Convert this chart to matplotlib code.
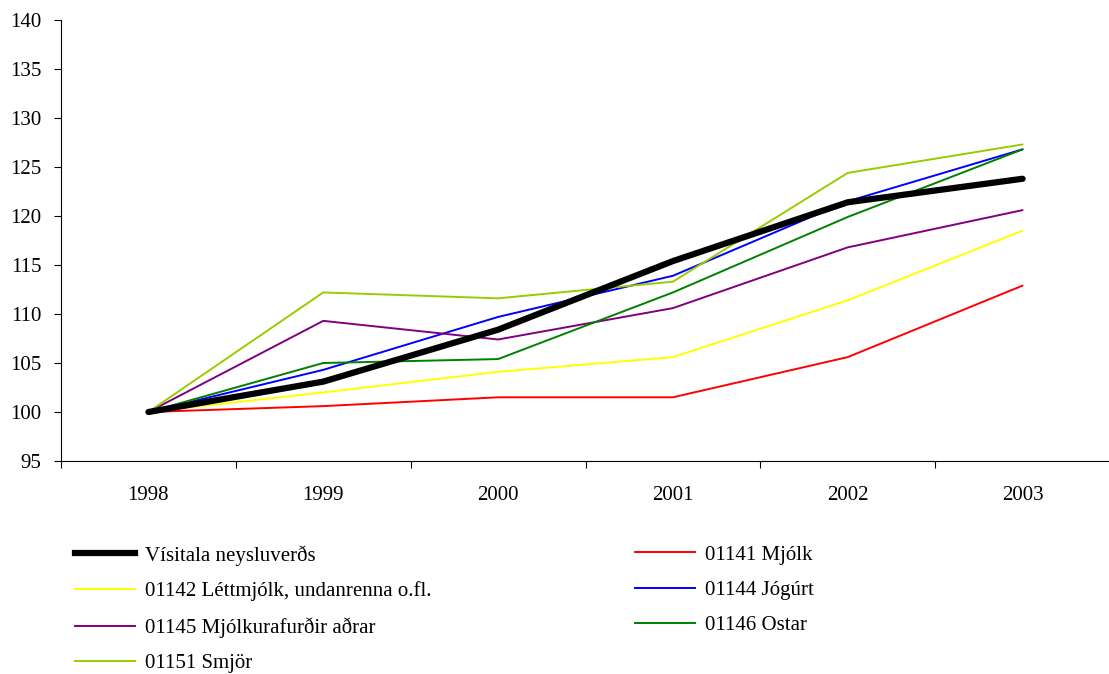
import matplotlib
matplotlib.use("Agg")
import matplotlib.pyplot as plt
from matplotlib.lines import Line2D

plt.rcParams['font.family'] = ['Liberation Serif', 'DejaVu Serif']

years = ['1998', '1999', '2000', '2001', '2002', '2003']
visitala = [100, 103.1, 108.4, 115.4, 121.4, 123.8]
mjolk = [100, 100.6, 101.5, 101.5, 105.6, 112.9]
lettmjolk = [100, 102.0, 104.1, 105.6, 111.4, 118.5]
jogurt = [100, 104.3, 109.7, 113.9, 121.5, 126.8]
mjolkurafurdir = [100, 109.3, 107.4, 110.6, 116.8, 120.6]
ostar = [100, 105.0, 105.4, 112.2, 119.9, 126.8]
smjor = [100, 112.2, 111.6, 113.3, 124.4, 127.3]

series = [
    ("Vísitala neysluverðs", visitala, "black", 4.5),
    ("01141 Mjólk", mjolk, "#ff0000", 1.4),
    ("01142 Léttmjólk, undanrenna o.fl.", lettmjolk, "#ffff00", 1.4),
    ("01144 Jógúrt", jogurt, "#0000ff", 1.4),
    ("01145 Mjólkurafurðir aðrar", mjolkurafurdir, "#800080", 1.4),
    ("01146 Ostar", ostar, "#008000", 1.4),
    ("01151 Smjör", smjor, "#99cc00", 1.4),
]

FS = 15

fig = plt.figure(figsize=(11.09, 6.74), dpi=100)
ax = fig.add_axes([61/1109, 1-461/674, (1110-61)/1109, (461-20)/674])

x = list(range(len(years)))
order = [1, 2, 3, 4, 5, 6, 0]
for i in order:
    name, vals, col, lw = series[i]
    ax.plot(x, vals, color=col, lw=lw, solid_capstyle='round',
            zorder=3 if i == 0 else 2)

ax.set_xlim(-0.5, 5.5)
ax.set_ylim(95, 140)
ax.set_yticks(range(95, 141, 5))
ax.set_xticks([i - 0.5 for i in range(7)])
ax.set_xticklabels([])
ax.set_xticks(x, minor=True)
ax.set_xticklabels(years, minor=True)
ax.tick_params(axis='x', which='minor', length=0, pad=18, labelsize=FS)
ax.tick_params(axis='x', which='major', length=5, direction='out', width=0.8)
ax.tick_params(axis='y', length=5, direction='out', width=0.8, labelsize=FS, pad=9)
for s in ['top', 'right']:
    ax.spines[s].set_visible(False)
ax.spines['left'].set_linewidth(0.8)
ax.spines['bottom'].set_linewidth(0.8)

def mk(i):
    name, vals, col, lw = series[i]
    return Line2D([], [], color=col, lw=lw), name

col1 = [mk(i) for i in [0, 2, 4, 6]]
col2 = [mk(i) for i in [1, 3, 5]]
common = dict(frameon=False, fontsize=FS, handlelength=2.9, handletextpad=0.48,
              labelspacing=0.76, borderpad=0, borderaxespad=0, loc='upper left')
fig.legend([h for h, n in col1], [n for h, n in col1],
           bbox_to_anchor=(75/1109, 1-545/674), **common)
fig.legend([h for h, n in col2], [n for h, n in col2],
           bbox_to_anchor=(635/1109, 1-545/674), **common)

fig.savefig("out.png", dpi=100)
